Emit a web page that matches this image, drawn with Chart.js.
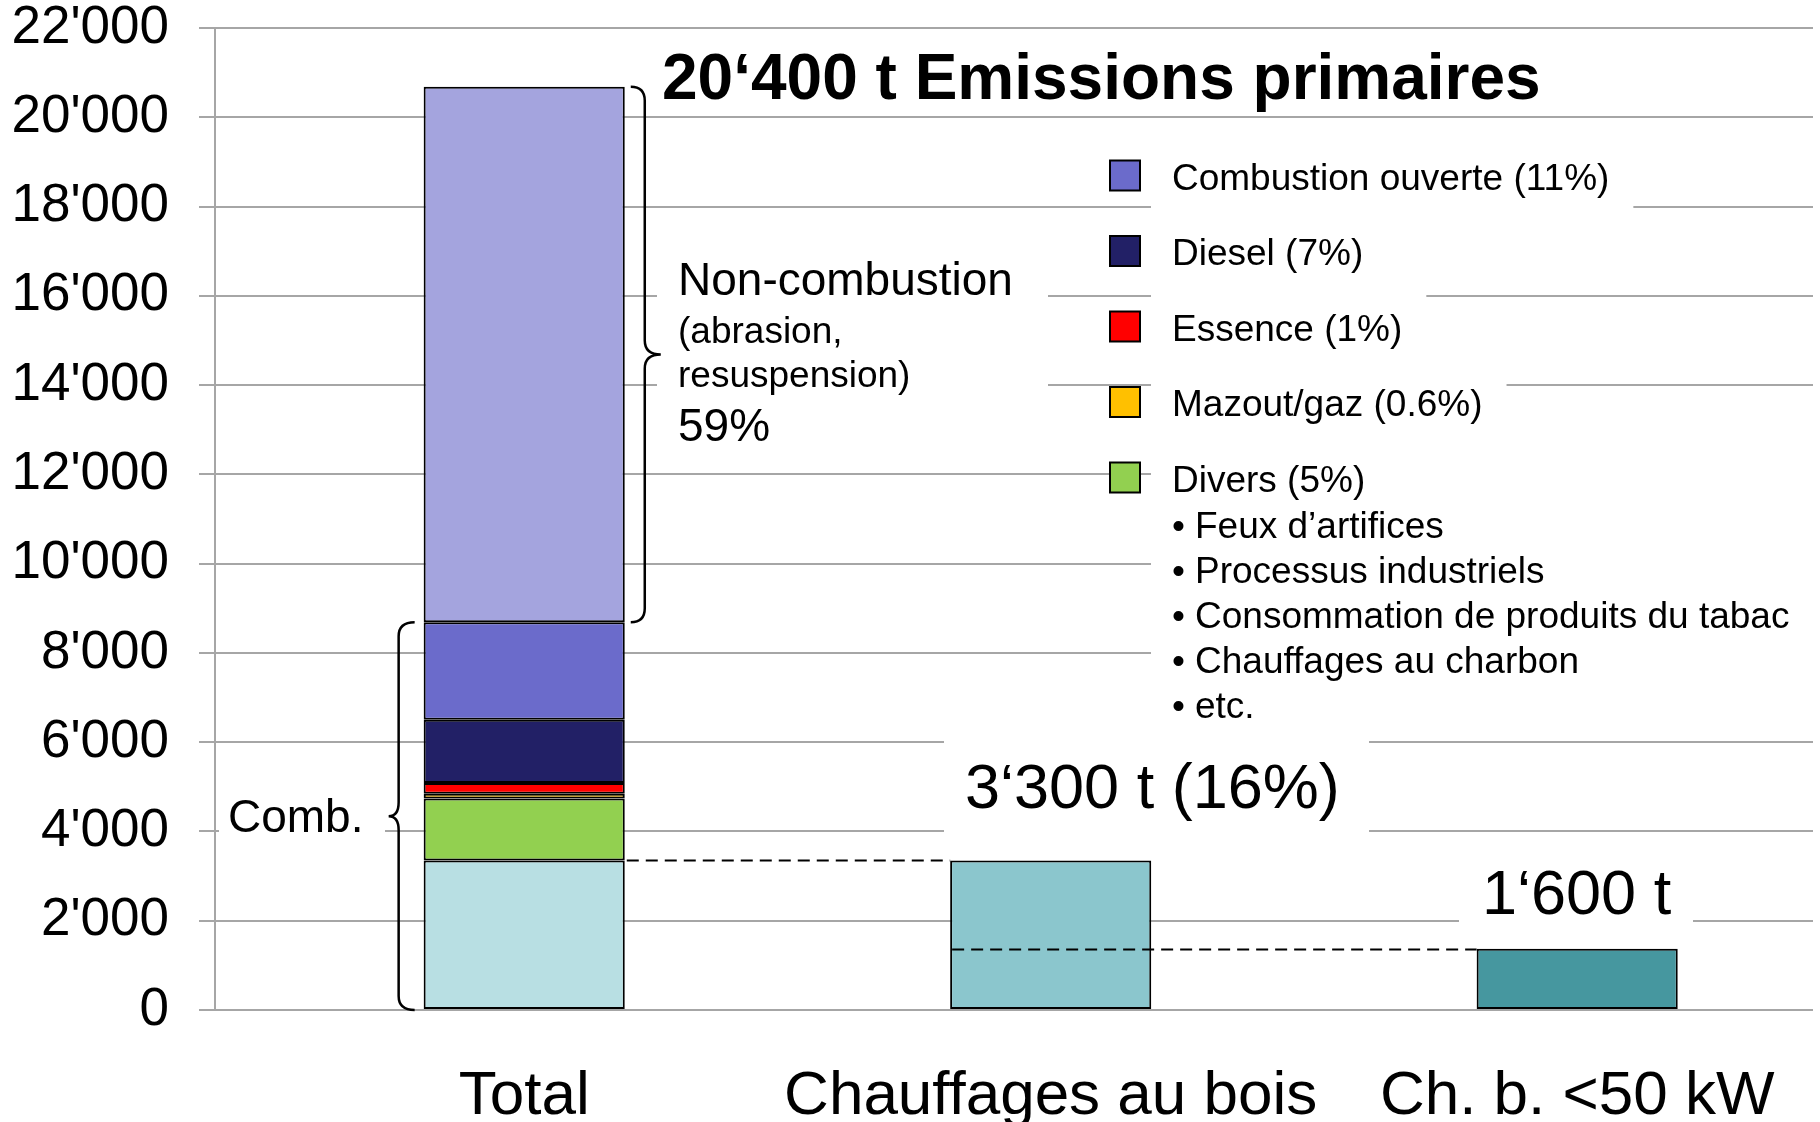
<!DOCTYPE html>
<html>
<head>
<meta charset="utf-8">
<script src="https://cdn.jsdelivr.net/npm/chart.js@4.4.1/dist/chart.umd.min.js"></script>
<style>
html, body { margin: 0; padding: 0; background: #fff; }
canvas { display: block; }
</style>
</head>
<body>
<canvas id="emissions" width="1820" height="1122"></canvas>
<script>
const categories = ["Total", "Chauffages au bois", "Ch. b. <50 kW"];
const totalParts = ["Chauffages au bois", "Divers", "Mazout/gaz", "Essence", "Diesel", "Combustion ouverte", "Non-combustion"];
const totalValues = [3350, 1390, 105, 240, 1420, 2180, 12000];
const partColors = ["#b8dfe3", "#92d050", "#ffc000", "#ff0000", "#222066", "#6b6bcb", "#a4a4de"];
const woodValues = [3350, 1370];
const woodColors = ["#8bc6cd", "#46979f"];
const yTicks = [0, 2000, 4000, 6000, 8000, 10000, 12000, 14000, 16000, 18000, 20000, 22000];

const legendLabels = ["Combustion ouverte (11%)", "Diesel (7%)", "Essence (1%)", "Mazout/gaz (0.6%)", "Divers (5%)"];
const legendColors = ["#6b6bcb", "#222066", "#ff0000", "#ffc000", "#92d050"];
const diversItems = ["Feux d’artifices", "Processus industriels", "Consommation de produits du tabac", "Chauffages au charbon", "etc."];

const titleText = "20‘400 t Emissions primaires";
const nonCombLines = ["Non-combustion", "(abrasion,", "resuspension)", "59%"];
const combText = "Comb.";
const woodText = "3‘300 t (16%)";
const smallText = "1‘600 t";

const FONT = "'Liberation Sans', Arial, sans-serif";
const GRID = "#a6a6a6";

function fmt(v) {
  if (v === 0) return "0";
  return Math.floor(v / 1000) + "'" + String(v % 1000).padStart(3, "0");
}

const datasets = totalParts.map((name, i) => ({
  label: name,
  data: [{ x: 0, y: totalValues[i] }],
  backgroundColor: partColors[i]
}));
woodValues.forEach((v, i) => {
  datasets.push({ label: categories[i + 1], data: [{ x: i + 1, y: v }], backgroundColor: woodColors[i] });
});
datasets.forEach(d => {
  d.borderColor = "#000";
  d.borderWidth = 2;
  d.borderSkipped = false;
  d.barPercentage = 0.382;
  d.categoryPercentage = 1;
});

function brace(ctx, xEnd, xLine, xTip, yA, yB, r) {
  const ym = (yA + yB) / 2;
  ctx.beginPath();
  ctx.moveTo(xEnd, yA);
  ctx.quadraticCurveTo(xLine, yA, xLine, yA + r);
  ctx.lineTo(xLine, ym - r);
  ctx.quadraticCurveTo(xLine, ym, xTip, ym);
  ctx.quadraticCurveTo(xLine, ym, xLine, ym + r);
  ctx.lineTo(xLine, yB - r);
  ctx.quadraticCurveTo(xLine, yB, xEnd, yB);
  ctx.stroke();
}

function textWidth(ctx, s, font) {
  ctx.font = font;
  return ctx.measureText(s).width;
}

const overlay = {
  id: "overlay",
  beforeDatasetsDraw(chart) {
    const ctx = chart.ctx;
    const right = chart.chartArea.right;
    ctx.save();
    ctx.fillStyle = "#fff";
    // text backgrounds that hide the grid lines
    ctx.fillRect(657, 250, 391, 195);
    ctx.fillRect(219, 790, 166, 55);
    for (let i = 0; i < 4; i++) {
      const cy = 176.5 + 75.5 * i;
      const w = textWidth(ctx, legendLabels[i], "37px " + FONT);
      ctx.fillRect(1151, cy - 38, 1172 + w + 24 - 1151, 76);
    }
    ctx.fillRect(1151, 440, right - 1151 + 2, 288);
    ctx.fillRect(944, 728, 425, 117);
    ctx.fillRect(1459, 850, 234, 85);
    ctx.restore();
  },
  afterDatasetsDraw(chart) {
    const ctx = chart.ctx;
    const y = chart.scales.y;
    const totalBar = chart.getDatasetMeta(0).data[0];
    const woodBar = chart.getDatasetMeta(totalParts.length).data[0];
    const smallBar = chart.getDatasetMeta(totalParts.length + 1).data[0];
    const tLeft = totalBar.x - totalBar.width / 2;
    const tRight = totalBar.x + totalBar.width / 2;
    const wLeft = woodBar.x - woodBar.width / 2;
    const sLeft = smallBar.x - smallBar.width / 2;

    ctx.save();
    // dashed links
    ctx.strokeStyle = "#000";
    ctx.lineWidth = 2;
    ctx.setLineDash([12, 7]);
    ctx.beginPath();
    const y1 = Math.round(y.getPixelForValue(totalValues[0])) + 0.5;
    ctx.moveTo(tRight + 2, y1);
    ctx.lineTo(wLeft, y1);
    const y2 = Math.round(y.getPixelForValue(woodValues[1])) + 0.5;
    ctx.moveTo(wLeft + 2, y2);
    ctx.lineTo(sLeft, y2);
    ctx.stroke();
    ctx.setLineDash([]);

    // braces
    const total = totalValues.reduce((a, b) => a + b, 0);
    const comb = totalValues.slice(0, 6).reduce((a, b) => a + b, 0);
    ctx.lineWidth = 2.5;
    brace(ctx, tRight + 6, tRight + 20, tRight + 36, y.getPixelForValue(total), y.getPixelForValue(comb), 14);
    brace(ctx, tLeft - 9, tLeft - 25, tLeft - 35, y.getPixelForValue(comb), y.getPixelForValue(0), 14);

    // texts
    ctx.fillStyle = "#000";
    ctx.textBaseline = "alphabetic";
    ctx.textAlign = "left";
    ctx.font = "bold 64px " + FONT;
    ctx.fillText(titleText, 662, 99);

    ctx.font = "46px " + FONT;
    ctx.fillText(nonCombLines[0], 678, 295);
    ctx.font = "37px " + FONT;
    ctx.fillText(nonCombLines[1], 678, 342.5);
    ctx.fillText(nonCombLines[2], 678, 386.5);
    ctx.font = "46px " + FONT;
    ctx.fillText(nonCombLines[3], 678, 441);
    ctx.fillText(combText, 228, 832);

    ctx.font = "63px " + FONT;
    ctx.fillText(woodText, 965, 808);
    ctx.fillText(smallText, 1482, 914);

    // legend
    ctx.font = "37px " + FONT;
    legendLabels.forEach((lab, i) => {
      const cy = 176.5 + 75.5 * i;
      ctx.fillStyle = legendColors[i];
      ctx.fillRect(1110, cy - 16, 30, 30);
      ctx.strokeStyle = "#000";
      ctx.lineWidth = 2;
      ctx.strokeRect(1110, cy - 16, 30, 30);
      ctx.fillStyle = "#000";
      ctx.fillText(lab, 1172, cy + 13.2);
    });
    diversItems.forEach((item, i) => {
      const cy = 524.5 + 45 * i;
      ctx.fillText("•", 1172, cy + 13.2);
      ctx.fillText(item, 1195, cy + 13.2);
    });
    ctx.restore();
  }
};

new Chart(document.getElementById("emissions"), {
  type: "bar",
  data: { datasets: datasets },
  plugins: [overlay],
  options: {
    responsive: false,
    animation: false,
    layout: { padding: { top: 28, right: 7, left: 0, bottom: 0 } },
    plugins: { legend: { display: false }, tooltip: { enabled: false } },
    scales: {
      x: {
        type: "linear",
        offset: false,
        min: -0.5873,
        max: 2.4479,
        stacked: true,
        grid: { display: false, offset: false },
        border: { display: false },
        afterBuildTicks: s => { s.ticks = categories.map((c, i) => ({ value: i })); },
        afterFit: s => { s.height = 112; },
        ticks: {
          callback: (v, i) => categories[i],
          font: { size: 62, family: FONT },
          color: "#000",
          padding: 42,
          maxRotation: 0,
          autoSkip: false
        }
      },
      y: {
        min: 0,
        max: 22000,
        stacked: true,
        afterBuildTicks: s => { s.ticks = yTicks.map(v => ({ value: v })); },
        afterFit: s => { s.width = 215; s.paddingTop = 0; s.paddingBottom = 0; },
        grid: { color: GRID, lineWidth: 2, tickLength: 16 },
        border: { color: GRID, width: 2 },
        ticks: {
          callback: v => fmt(v),
          font: { size: 53, family: FONT, lineHeight: 1 },
          color: "#000",
          padding: 30
        }
      }
    }
  }
});
</script>
</body>
</html>
